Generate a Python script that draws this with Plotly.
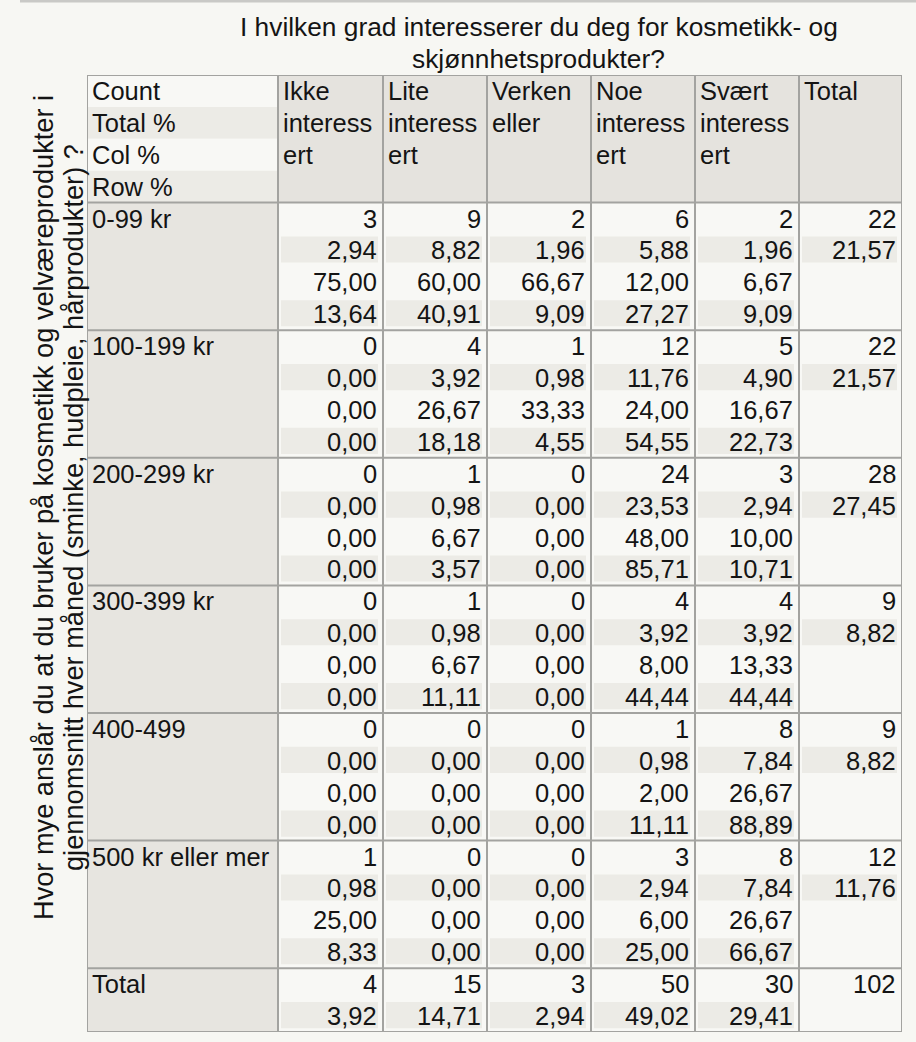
import plotly.graph_objects as go

# ---------------- data ----------------
title_lines = ["I hvilken grad interesserer du deg for kosmetikk- og", "skjønnhetsprodukter?"]
ytitle_lines = ["Hvor mye anslår du at du bruker på kosmetikk og velværeprodukter i",
                "gjennomsnitt hver måned (sminke, hudpleie, hårprodukter) ?"]
stat_labels = ["Count", "Total %", "Col %", "Row %"]
col_headers = [["Ikke", "interess", "ert"], ["Lite", "interess", "ert"], ["Verken", "eller"],
               ["Noe", "interess", "ert"], ["Svært", "interess", "ert"], ["Total"]]
row_labels = ["0-99 kr", "100-199 kr", "200-299 kr", "300-399 kr", "400-499", "500 kr eller mer"]
counts = [[3, 9, 2, 6, 2], [0, 4, 1, 12, 5], [0, 1, 0, 24, 3], [0, 1, 0, 4, 4], [0, 0, 0, 1, 8], [1, 0, 0, 3, 8]]
total_pct = [[2.94, 8.82, 1.96, 5.88, 1.96], [0.00, 3.92, 0.98, 11.76, 4.90], [0.00, 0.98, 0.00, 23.53, 2.94],
             [0.00, 0.98, 0.00, 3.92, 3.92], [0.00, 0.00, 0.00, 0.98, 7.84], [0.98, 0.00, 0.00, 2.94, 7.84]]
col_pct = [[75.00, 60.00, 66.67, 12.00, 6.67], [0.00, 26.67, 33.33, 24.00, 16.67], [0.00, 6.67, 0.00, 48.00, 10.00],
           [0.00, 6.67, 0.00, 8.00, 13.33], [0.00, 0.00, 0.00, 2.00, 26.67], [25.00, 0.00, 0.00, 6.00, 26.67]]
row_pct = [[13.64, 40.91, 9.09, 27.27, 9.09], [0.00, 18.18, 4.55, 54.55, 22.73], [0.00, 3.57, 0.00, 85.71, 10.71],
           [0.00, 11.11, 0.00, 44.44, 44.44], [0.00, 0.00, 0.00, 11.11, 88.89], [8.33, 0.00, 0.00, 25.00, 66.67]]
row_totals = [22, 22, 28, 9, 9, 12]
row_total_pct = [21.57, 21.57, 27.45, 8.82, 8.82, 11.76]
total_label = "Total"
col_totals = [4, 15, 3, 50, 30]
col_total_pct = [3.92, 14.71, 2.94, 49.02, 29.41]
grand_total = 102

# ---------------- style ----------------
FONT = "Helvetica, 'Liberation Sans', Arial, sans-serif"
FS = 25.5
FS_TITLE = 26.3
FS_YTITLE = 27.2
TXT = "#141414"
PAGE_BG = "#f7f7f3"
CELL_BG = "#f8f8f5"
STRIPE = "#ecebe6"
HEAD_BG = "#e5e3de"
ROWLAB_BG = "#e7e5e0"
BORDER = "#a3a3a0"
W, H = 916, 1042
ML, MR, MT, MB = 87, 14, 75, 10
widths = [191, 105, 104, 104, 104, 104, 103]
xb = [0]
for w in widths:
    xb.append(xb[-1] + w)
n_groups = len(row_labels)
n_lines = 4 + 4 * n_groups + 2


def fmt(v):
    return f"{v:.2f}".replace(".", ",")


def px_x(px):
    return (px - ML) / (W - ML - MR)


def px_y(py):
    return (H - MB - py) / (H - MT - MB)


shapes = []
ann = []


def rect(x0, x1, y0, y1, color):
    shapes.append(dict(type="rect", xref="x", yref="y", x0=x0, x1=x1, y0=y0, y1=y1,
                       fillcolor=color, line=dict(width=0), layer="below"))


def text(x, y, s, anchor, shift):
    ann.append(dict(x=x, y=y, xref="x", yref="y", text=s, showarrow=False, xanchor=anchor,
                    yanchor="middle", xshift=shift, font=dict(family=FONT, size=FS, color=TXT)))


# header
for i, lab in enumerate(stat_labels):
    rect(xb[0], xb[1], i, i + 1, CELL_BG if i % 2 == 0 else STRIPE)
    text(xb[0], i + 0.5, lab, "left", 3)
for c, hdr in enumerate(col_headers):
    rect(xb[c + 1], xb[c + 2], 0, 4, HEAD_BG)
    for i, s in enumerate(hdr):
        text(xb[c + 1], i + 0.5, s, "left", 3)


def cell_line(c, line, s, striped):
    if striped:
        rect(xb[c] + 3, xb[c + 1] - 5, line + 0.06, line + 0.88, STRIPE)
    text(xb[c + 1], line + 0.5, s, "right", -4)


# body
for g in range(n_groups):
    top = 4 + 4 * g
    rect(xb[0], xb[1], top, top + 4, ROWLAB_BG)
    text(xb[0], top + 0.5, row_labels[g], "left", 3)
    for c in range(5):
        rect(xb[c + 1], xb[c + 2], top, top + 4, CELL_BG)
        vals = [str(counts[g][c]), fmt(total_pct[g][c]), fmt(col_pct[g][c]), fmt(row_pct[g][c])]
        for k, s in enumerate(vals):
            cell_line(c + 1, top + k, s, k % 2 == 1)
    rect(xb[6], xb[7], top, top + 4, CELL_BG)
    cell_line(6, top, str(row_totals[g]), False)
    cell_line(6, top + 1, fmt(row_total_pct[g]), True)

# total row
top = 4 + 4 * n_groups
rect(xb[0], xb[1], top, top + 2, ROWLAB_BG)
text(xb[0], top + 0.5, total_label, "left", 3)
for c in range(5):
    rect(xb[c + 1], xb[c + 2], top, top + 2, CELL_BG)
    cell_line(c + 1, top, str(col_totals[c]), False)
    cell_line(c + 1, top + 1, fmt(col_total_pct[c]), True)
rect(xb[6], xb[7], top, top + 2, CELL_BG)
cell_line(6, top, str(grand_total), False)

# grid lines
for x in xb:
    shapes.append(dict(type="line", xref="x", yref="y", x0=x, x1=x, y0=0, y1=n_lines,
                       line=dict(color=BORDER, width=2)))
for y in [0, 4] + [4 + 4 * (g + 1) for g in range(n_groups)] + [n_lines]:
    shapes.append(dict(type="line", xref="x", yref="y", x0=0, x1=xb[-1], y0=y, y1=y,
                       line=dict(color=BORDER, width=2)))

# top window strip
shapes.append(dict(type="line", xref="paper", yref="paper", x0=px_x(20), x1=px_x(W), y0=px_y(1), y1=px_y(1),
                   line=dict(color="#c9c9c6", width=3)))

# titles
title_cx = px_x(ML + (xb[1] + xb[6]) / 2)
for i, s in enumerate(title_lines):
    ann.append(dict(x=title_cx, y=px_y(27 + 32 * i), xref="paper", yref="paper", text=s, showarrow=False,
                    xanchor="center", yanchor="middle", font=dict(family=FONT, size=FS_TITLE, color=TXT)))
for i, s in enumerate(ytitle_lines):
    ann.append(dict(x=px_x(43 + 30 * i), y=px_y(508), xref="paper", yref="paper", text=s, showarrow=False,
                    textangle=-90, xanchor="center", yanchor="middle",
                    font=dict(family=FONT, size=FS_YTITLE, color=TXT)))

fig = go.Figure()
fig.update_layout(
    width=W, height=H, margin=dict(l=ML, r=MR, t=MT, b=MB),
    paper_bgcolor=PAGE_BG, plot_bgcolor=PAGE_BG,
    xaxis=dict(range=[0, xb[-1]], visible=False, fixedrange=True),
    yaxis=dict(range=[n_lines, 0], visible=False, fixedrange=True),
    shapes=shapes, annotations=ann, showlegend=False,
)
fig.write_html("out.html", config={"displayModeBar": False, "staticPlot": True},
               post_script="document.body.style.margin='0';document.body.style.overflow='hidden';")
